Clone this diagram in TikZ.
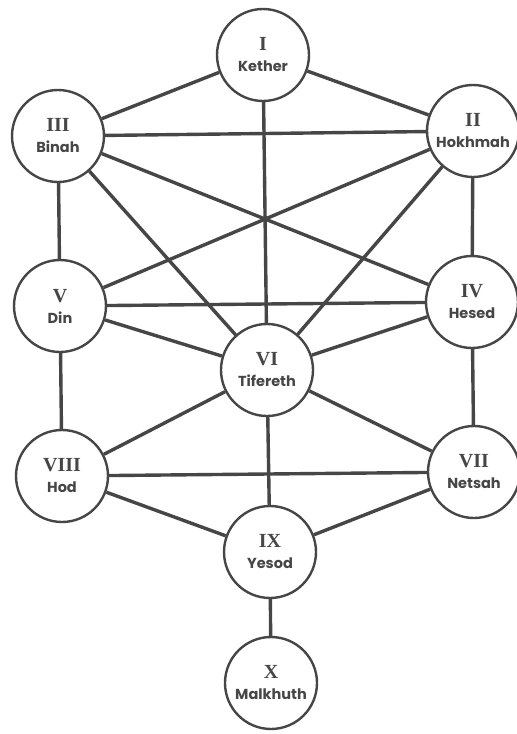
\documentclass[tikz,border=0pt]{standalone}
\usepackage{fontspec}
\usepackage{tikz}
\usetikzlibrary{positioning}
\setmainfont{Liberation Serif}
\newfontfamily\namefont{Poppins}
\definecolor{ink}{RGB}{70,70,70}

\tikzset{
  sefira/.style={circle, draw=ink, line width=2.4pt, fill=white,
    minimum size=92pt, inner sep=0pt, align=center, text=ink,
    font=\fontsize{15}{21}\selectfont},
  path/.style={draw=ink, line width=3.4pt}
}
\newcommand{\sef}[2]{{\fontsize{20}{21}\selectfont\bfseries #1}\\{\namefont\fontsize{14.5}{21}\selectfont\bfseries #2}}

\begin{document}
\begin{tikzpicture}[x=1pt, y=-1pt]
\useasboundingbox (0,0) rectangle (517,734);

% Sefirot
\node[sefira] (kether) at (263,55) {\sef{I}{Kether}};
\node[sefira] (binah) at (58,136) {\sef{III}{Binah}};
\node[sefira] (hokhmah) at (473,131) {\sef{II}{Hokhmah}};
\node[sefira] (din) at (60,306) {\sef{V}{Din}};
\node[sefira] (hesed) at (472,302) {\sef{IV}{Hesed}};
\node[sefira] (tifereth) at (267,370) {\sef{VI}{Tifereth}};
\node[sefira] (hod) at (62,476) {\sef{VIII}{Hod}};
\node[sefira] (netsah) at (474,472) {\sef{VII}{Netsah}};
\node[sefira] (yesod) at (270,552) {\sef{IX}{Yesod}};
\node[sefira] (malkhuth) at (271,683) {\sef{X}{Malkhuth}};

% Paths
\foreach \a/\b in {kether/binah, kether/hokhmah, kether/tifereth,
    binah/hokhmah, binah/din, binah/tifereth, binah/hesed,
    hokhmah/din, hokhmah/tifereth, hokhmah/hesed,
    din/hesed, din/tifereth, hesed/tifereth,
    din/hod, hesed/netsah, hod/tifereth, netsah/tifereth,
    hod/netsah, hod/yesod, netsah/yesod, tifereth/yesod, yesod/malkhuth}
  \draw[path] (\a) -- (\b);
\end{tikzpicture}
\end{document}
